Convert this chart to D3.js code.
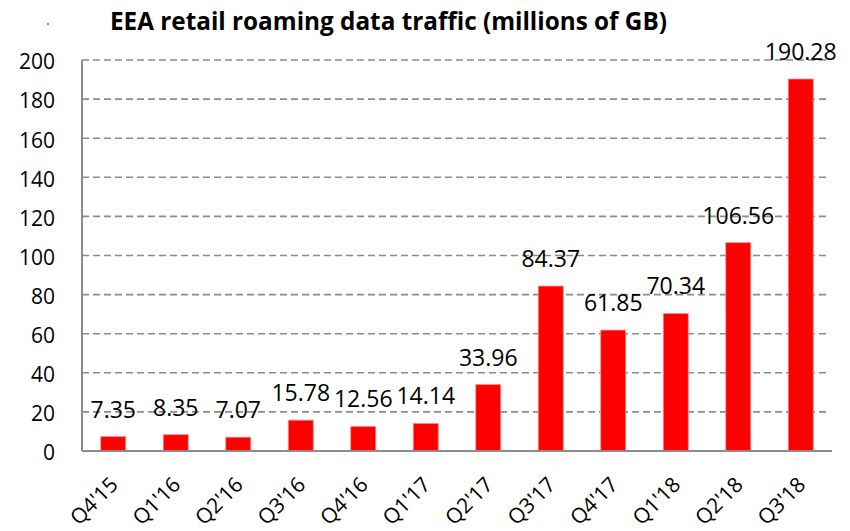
<!DOCTYPE html>
<html>
<head>
<meta charset="utf-8">
<script src="https://cdn.jsdelivr.net/npm/d3@7/dist/d3.min.js"></script>
<style>
  html, body { margin: 0; padding: 0; background: #fff; }
  svg { display: block; }
  text { font-family: "Open Sans", "Noto Sans", sans-serif; fill: #000; }
</style>
</head>
<body>
<svg id="chart" width="850" height="531"></svg>
<script>
// Quarterly EEA retail roaming data traffic, millions of GB
const quarters = ["Q4'15", "Q1'16", "Q2'16", "Q3'16", "Q4'16", "Q1'17",
                  "Q2'17", "Q3'17", "Q4'17", "Q1'18", "Q2'18", "Q3'18"];
const traffic = [7.35, 8.35, 7.07, 15.78, 12.56, 14.14,
                 33.96, 84.37, 61.85, 70.34, 106.56, 190.28];
const yTicks = [0, 20, 40, 60, 80, 100, 120, 140, 160, 180, 200];
const titleText = "EEA retail roaming data traffic (millions of GB)";

const svg = d3.select("#chart");
const plotLeft = 82, plotRight = 832, plotTop = 60, plotBottom = 451;

const x = d3.scaleBand()
  .domain(quarters)
  .range([plotLeft, plotRight])
  .paddingInner(0.6)
  .paddingOuter(0.3);

const y = d3.scaleLinear()
  .domain([0, 200])
  .range([plotBottom, plotTop]);

// Title and the small stray mark at its left
svg.append("rect")
  .attr("x", 47).attr("y", 23).attr("width", 2).attr("height", 2)
  .attr("fill", "#8a8a8a");

svg.append("text")
  .attr("x", 110).attr("y", 30)
  .attr("font-size", 25)
  .attr("font-weight", "bold")
  .attr("textLength", 557)
  .attr("lengthAdjust", "spacingAndGlyphs")
  .text(titleText);

// Dashed horizontal gridlines
svg.append("g")
  .selectAll("line")
  .data(yTicks.filter(d => d > 0))
  .join("line")
  .attr("x1", plotLeft).attr("x2", plotRight - 3)
  .attr("y1", d => y(d)).attr("y2", d => y(d))
  .attr("stroke", "#8c8c8c")
  .attr("stroke-width", 1.6)
  .attr("stroke-dasharray", "7,4");

// Y axis labels
const yAxis = d3.axisLeft(y).tickValues(yTicks).tickSize(0).tickPadding(27);
const gy = svg.append("g").attr("transform", `translate(${plotLeft},0)`).call(yAxis);
gy.select(".domain").remove();
gy.selectAll("text")
  .attr("font-size", 21)
  .attr("font-family", "'Open Sans', sans-serif")
  .attr("fill", "#000")
  .attr("dy", "0.42em");

// Bars
svg.append("g")
  .selectAll("rect")
  .data(traffic)
  .join("rect")
  .attr("x", (d, i) => x(quarters[i]))
  .attr("width", x.bandwidth())
  .attr("y", d => y(d))
  .attr("height", d => y(0) - y(d))
  .attr("fill", "#ff0000")
  .attr("stroke", "#f79090")
  .attr("stroke-width", 0.8);

// Value labels above bars
svg.append("g")
  .selectAll("text")
  .data(traffic)
  .join("text")
  .attr("x", (d, i) => x(quarters[i]) + x.bandwidth() / 2)
  .attr("y", d => y(d) - 19)
  .attr("text-anchor", "middle")
  .attr("font-size", 23)
  .text(d => d.toFixed(2));

// Axis lines
svg.append("line")
  .attr("x1", plotLeft).attr("x2", plotLeft)
  .attr("y1", plotTop).attr("y2", plotBottom)
  .attr("stroke", "#8c8c8c").attr("stroke-width", 2);
svg.append("line")
  .attr("x1", plotLeft).attr("x2", plotRight)
  .attr("y1", plotBottom).attr("y2", plotBottom)
  .attr("stroke", "#8c8c8c").attr("stroke-width", 2);

// Rotated category labels
const xAxis = d3.axisBottom(x).tickSize(0).tickPadding(0);
const gx = svg.append("g").attr("transform", `translate(0,${plotBottom})`).call(xAxis);
gx.select(".domain").remove();
gx.selectAll("text")
  .attr("font-size", 21)
  .attr("font-family", "'Open Sans', sans-serif")
  .attr("fill", "#000")
  .attr("text-anchor", "end")
  .attr("dy", 0)
  .attr("y", 0)
  .attr("transform", "translate(6,35) rotate(-45)");
</script>
</body>
</html>
